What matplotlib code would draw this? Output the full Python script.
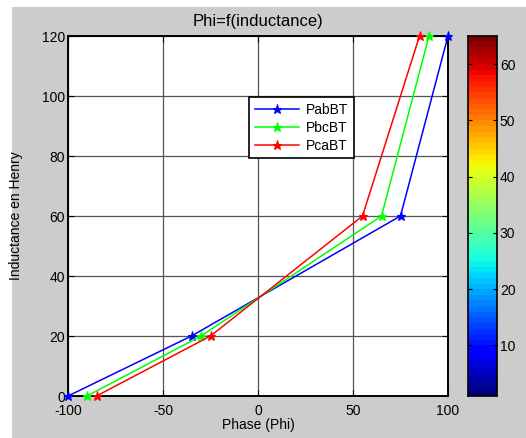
"""Phi=f(inductance) chart, MATLAB-style figure with a jet colorbar."""

import matplotlib
matplotlib.use("Agg")
import matplotlib.pyplot as plt
import numpy as np
from matplotlib.patches import Rectangle

# values
inductance = [0, 20, 60, 120]
phase_ab = [-100, -35, 75, 100]
phase_bc = [-90, -30, 65, 90]
phase_ca = [-85, -25, 55, 85]
series_names = ["PabBT", "PbcBT", "PcaBT"]
x_ticks = [-100, -50, 0, 50, 100]
y_ticks = [0, 20, 40, 60, 80, 100, 120]
cbar_range = (1, 65)
cbar_ticks = [10, 20, 30, 40, 50, 60]

BG = "#cccccc"
GRID = "#555555"

plt.rcParams.update({
    "font.family": ["Liberation Sans", "DejaVu Sans"],
    "font.size": 10,
    "axes.unicode_minus": False,
})

fig = plt.figure(figsize=(5.26, 4.38), dpi=100, facecolor="white")
fig.patches.append(Rectangle((12 / 526, 0), 1, 431 / 438, transform=fig.transFigure,
                             facecolor=BG, edgecolor="none", zorder=-10))

ax = fig.add_axes([68 / 526, 42 / 438, 380 / 526, 360 / 438])
for phase, color, name in zip((phase_ab, phase_bc, phase_ca),
                              ("#0000ff", "#00ff00", "#ff0000"), series_names):
    ax.plot(phase, inductance, color=color, lw=1.1, marker="*", ms=6.5,
            mew=0.8, label=name, clip_on=False, zorder=3)

ax.set_xlim(-100, 100)
ax.set_ylim(0, 120)
ax.set_xticks(x_ticks)
ax.set_yticks(y_ticks)
ax.grid(True, color=GRID, lw=0.9, ls="-")
ax.set_axisbelow(True)
ax.tick_params(direction="in", top=True, right=True, length=4, width=0.8, pad=2)
ax.tick_params(axis="x", pad=6)
for s in ax.spines.values():
    s.set_linewidth(1.4)
ax.set_xlabel("Phase (Phi)", labelpad=0)
ax.set_ylabel("Inductance en Henry", labelpad=14)
ax.set_title("Phi=f(inductance)", pad=7)

leg = ax.legend(loc="upper left", bbox_to_anchor=(0.458, 0.85), frameon=True,
                fancybox=False, edgecolor="black", framealpha=1,
                handlelength=3.2, labelspacing=0.3, borderpad=0.4, handletextpad=0.5)
leg.get_frame().set_linewidth(1.2)

cax = fig.add_axes([468 / 526, 42 / 438, 29 / 526, 360 / 438])
grad = np.linspace(cbar_range[0], cbar_range[1], 64).reshape(-1, 1)
cax.imshow(grad, cmap=plt.get_cmap("jet", 64), aspect="auto", origin="lower",
           extent=[0, 1, cbar_range[0], cbar_range[1]])
cax.set_xticks([])
cax.set_yticks(cbar_ticks)
cax.yaxis.tick_right()
cax.tick_params(axis="y", direction="in", left=True, right=True, length=3, width=0.8, pad=2)
for s in cax.spines.values():
    s.set_linewidth(1.2)

fig.savefig("out.png", dpi=100, facecolor="white")
